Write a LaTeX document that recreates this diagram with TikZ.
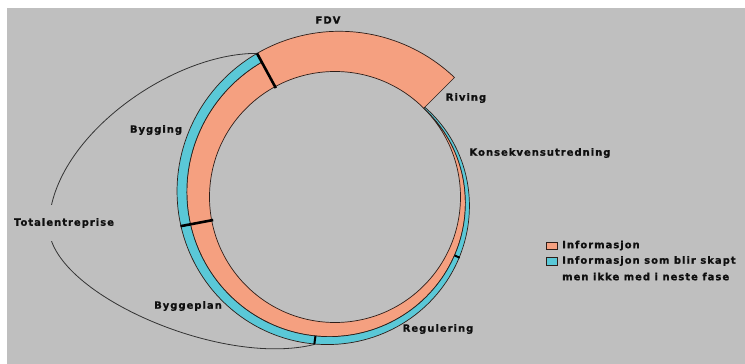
\documentclass[tikz,border=0pt]{standalone}
\usepackage{fontspec}
\newfontfamily\lblfont[LetterSpace=10,FakeBold=0.9]{DejaVu Sans Bold}
\definecolor{bg}{RGB}{191,191,191}
\definecolor{orng}{RGB}{245,160,128}
\definecolor{blu}{RGB}{90,200,215}
\definecolor{edge}{RGB}{45,30,25}
\definecolor{txt}{RGB}{15,15,15}
\begin{document}
\begin{tikzpicture}[x=1pt,y=1pt,
  declare function={Rout(\t)=127+42*(45-\t)/360+5*sin((45-\t)/2); Rmid(\t)=125.5+0.095*(45-\t)+1.3*sin((45-\t)/2);},
  lbl/.style={font=\lblfont\fontsize{10}{12}\selectfont, text=txt, inner sep=0pt},
  ring/.style={draw=edge, line width=0.7pt, line join=round},
  markline/.style={line width=2.6pt, black},
  bluemark/.style={line width=2pt, black},
  arcline/.style={line width=0.8pt, draw=black!80},
  legbox/.style={draw=edge, line width=0.8pt, inner sep=0pt, minimum width=11pt}
]
\useasboundingbox (-335,-167) rectangle (410,197);
\fill[white] (-335,-167) rectangle (410,197);
\fill[bg] (-328,-167) rectangle (410,189);
% orange band
\filldraw[ring, fill=orng] (45:125.5)
  -- plot[domain=45:-241.5, samples=140, variable=\t] (\t:{Rmid(\t)})
  -- plot[domain=-241.5:-315, samples=40, variable=\t] (\t:{Rout(\t)})
  -- (-315:125.5) arc[start angle=-315, end angle=45, radius=125.5] -- cycle;
% blue band
\filldraw[ring, fill=blu]
  plot[domain=45:-241.5, samples=140, variable=\t] (\t:{Rout(\t)})
  -- plot[domain=-241.5:45, samples=140, variable=\t] (\t:{Rmid(\t)}) -- cycle;
% mark coordinates
\coordinate (m1i) at (118.5:124);
\coordinate (m1o) at (118.5:{Rout(-241.5)});
\coordinate (m2i) at (190.7:124);
\coordinate (m2o) at (190.7:{Rout(-169.3)+0.5});
\coordinate (m3i) at (262:{Rmid(-98)});
\coordinate (m3o) at (262:{Rout(-98)+0.5});
\coordinate (m4i) at (334:{Rmid(-26)});
\coordinate (m4o) at (334:{Rout(-26)+0.5});
\coordinate (tl) at (-286,-30);
% Totalentreprise arc
\draw[arcline] (m1o) .. controls (-165,144) and (-286,57) .. (tl)
  .. controls (-286,-95) and (-115,-171) .. (m3o);
% marks
\draw[markline] (m1i) -- (m1o);
\draw[markline] (m2i) -- (m2o);
\draw[bluemark] (m3i) -- (m3o);
\draw[bluemark] (m4i) -- (m4o);
% labels
\node[lbl] (fdv) at (-7,177) {FDV};
\node[lbl] (riv) at (131,99) {Riving};
\node[lbl] (kons) at (205,44) {Konsekvensutredning};
\node[lbl] (bygg) at (-179,67) {Bygging};
\node[lbl, fill=bg, inner xsep=1pt, inner ysep=13pt] (tot) at (-271,-26) {Totalentreprise};
\node[lbl] (byggp) at (-147,-109) {Byggeplan};
\node[lbl] (reg) at (103,-132) {Regulering};
% legend
\node[legbox, fill=orng, minimum height=7pt] (sq1) at (216.5,-48.5) {};
\node[legbox, fill=blu, minimum height=8pt] (sq2) at (216.5,-64) {};
\node[lbl, anchor=west] (lg1) at (227,-48.5) {Informasjon};
\node[lbl, anchor=west] (lg2) at (227,-64) {Informasjon som blir skapt};
\node[lbl, anchor=west] (lg3) at (227,-79.5) {men ikke med i neste fase};
\end{tikzpicture}
\end{document}
